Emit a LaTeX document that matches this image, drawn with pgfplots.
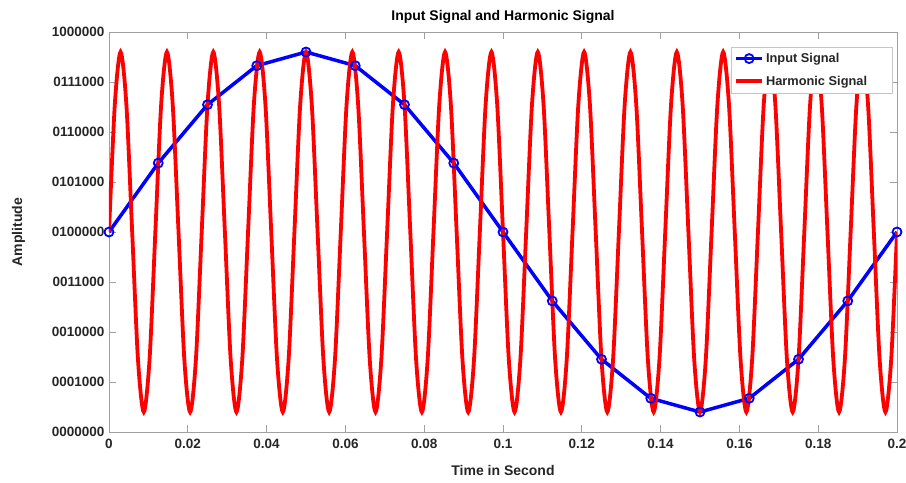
\documentclass[border=0pt]{standalone}
\usepackage{pgfplots}
\pgfplotsset{compat=1.18}
\usepackage{pgfplotstable}
\usepackage{fontspec}
\setmainfont{Liberation Sans}
\definecolor{axgray}{RGB}{160,160,160}
\definecolor{txt}{RGB}{38,38,38}
\pgfplotstableread{
x y
0 4
0.0125 5.378
0.025 6.546
0.0375 7.326
0.05 7.6
0.0625 7.326
0.075 6.546
0.0875 5.378
0.1 4
0.1125 2.622
0.125 1.454
0.1375 0.674
0.15 0.4
0.1625 0.674
0.175 1.454
0.1875 2.622
0.2 4
}\inputsig
\pgfplotstableread{
x y
0 4
0.001471 6.546
0.002941 7.6
0.004412 6.546
0.005882 4
0.007353 1.454
0.008824 0.4
0.010294 1.454
0.011765 4
0.013235 6.546
0.014706 7.6
0.016176 6.546
0.017647 4
0.019118 1.454
0.020588 0.4
0.022059 1.454
0.023529 4
0.025 6.546
0.026471 7.6
0.027941 6.546
0.029412 4
0.030882 1.454
0.032353 0.4
0.033824 1.454
0.035294 4
0.036765 6.546
0.038235 7.6
0.039706 6.546
0.041176 4
0.042647 1.454
0.044118 0.4
0.045588 1.454
0.047059 4
0.048529 6.546
0.05 7.6
0.051471 6.546
0.052941 4
0.054412 1.454
0.055882 0.4
0.057353 1.454
0.058824 4
0.060294 6.546
0.061765 7.6
0.063235 6.546
0.064706 4
0.066176 1.454
0.067647 0.4
0.069118 1.454
0.070588 4
0.072059 6.546
0.073529 7.6
0.075 6.546
0.076471 4
0.077941 1.454
0.079412 0.4
0.080882 1.454
0.082353 4
0.083824 6.546
0.085294 7.6
0.086765 6.546
0.088235 4
0.089706 1.454
0.091176 0.4
0.092647 1.454
0.094118 4
0.095588 6.546
0.097059 7.6
0.098529 6.546
0.1 4
0.101471 1.454
0.102941 0.4
0.104412 1.454
0.105882 4
0.107353 6.546
0.108824 7.6
0.110294 6.546
0.111765 4
0.113235 1.454
0.114706 0.4
0.116176 1.454
0.117647 4
0.119118 6.546
0.120588 7.6
0.122059 6.546
0.123529 4
0.125 1.454
0.126471 0.4
0.127941 1.454
0.129412 4
0.130882 6.546
0.132353 7.6
0.133824 6.546
0.135294 4
0.136765 1.454
0.138235 0.4
0.139706 1.454
0.141176 4
0.142647 6.546
0.144118 7.6
0.145588 6.546
0.147059 4
0.148529 1.454
0.15 0.4
0.151471 1.454
0.152941 4
0.154412 6.546
0.155882 7.6
0.157353 6.546
0.158824 4
0.160294 1.454
0.161765 0.4
0.163235 1.454
0.164706 4
0.166176 6.546
0.167647 7.6
0.169118 6.546
0.170588 4
0.172059 1.454
0.173529 0.4
0.175 1.454
0.176471 4
0.177941 6.546
0.179412 7.6
0.180882 6.546
0.182353 4
0.183824 1.454
0.185294 0.4
0.186765 1.454
0.188235 4
0.189706 6.546
0.191176 7.6
0.192647 6.546
0.194118 4
0.195588 1.454
0.197059 0.4
0.198529 1.454
0.2 4
}\harmsig
\begin{document}
\begin{tikzpicture}
\begin{axis}[
  scale only axis,
  width=788pt, height=400pt,
  xmin=0, xmax=0.2, ymin=0, ymax=8,
  axis line style={axgray, line width=0.8pt},
  tick style={axgray, line width=0.8pt},
  tick align=inside,
  major tick length=7pt,
  xtick={0,0.02,0.04,0.06,0.08,0.1,0.12,0.14,0.16,0.18,0.2},
  xticklabels={0,0.02,0.04,0.06,0.08,0.1,0.12,0.14,0.16,0.18,0.2},
  ytick={0,1,2,3,4,5,6,7,8},
  yticklabels={0000000,0001000,0010000,0011000,0100000,0101000,0110000,0111000,1000000},
  ticklabel style={font=\fontsize{13.5}{14}\selectfont\bfseries, text=txt},
  xticklabel style={yshift=-4pt},
  yticklabel style={xshift=-1pt},
  title={Input Signal and Harmonic Signal},
  title style={font=\fontsize{14}{16}\selectfont\bfseries, text=black, yshift=-1pt},
  xlabel={Time in Second},
  ylabel={Amplitude},
  label style={font=\fontsize{14}{16}\selectfont\bfseries, text=txt},
  xlabel style={yshift=-9pt},
  ylabel style={yshift=20pt},
  legend style={at={(0.994,0.9625)}, anchor=north east, draw=axgray!60, fill=white,
    font=\fontsize{12.8}{14}\selectfont\bfseries, text=txt, row sep=8pt, inner xsep=3pt, inner ysep=4pt},
  legend cell align=left,
  legend image code/.code={%
    \draw[#1] (0pt,0pt) -- (26pt,0pt);
    \draw[#1, mark repeat=2, mark phase=2] plot coordinates {(0pt,0pt) (13pt,0pt) (26pt,0pt)};},
]
\addplot[color=blue, line width=3.5pt, mark=o, mark size=4.5pt, mark options={line width=1.8pt, fill=none}] table[x=x,y=y] {\inputsig};
\addlegendentry{Input Signal}
\addplot[color=red, line width=3.8pt, smooth, tension=0.5, mark=none] table[x=x,y=y] {\harmsig};
\addlegendentry{Harmonic Signal\rule{20pt}{0pt}}
\end{axis}
\pgfresetboundingbox
\path ([xshift=-109pt,yshift=-50pt]current axis.south west) rectangle ([xshift=9pt,yshift=32pt]current axis.north east);
\end{tikzpicture}
\end{document}
